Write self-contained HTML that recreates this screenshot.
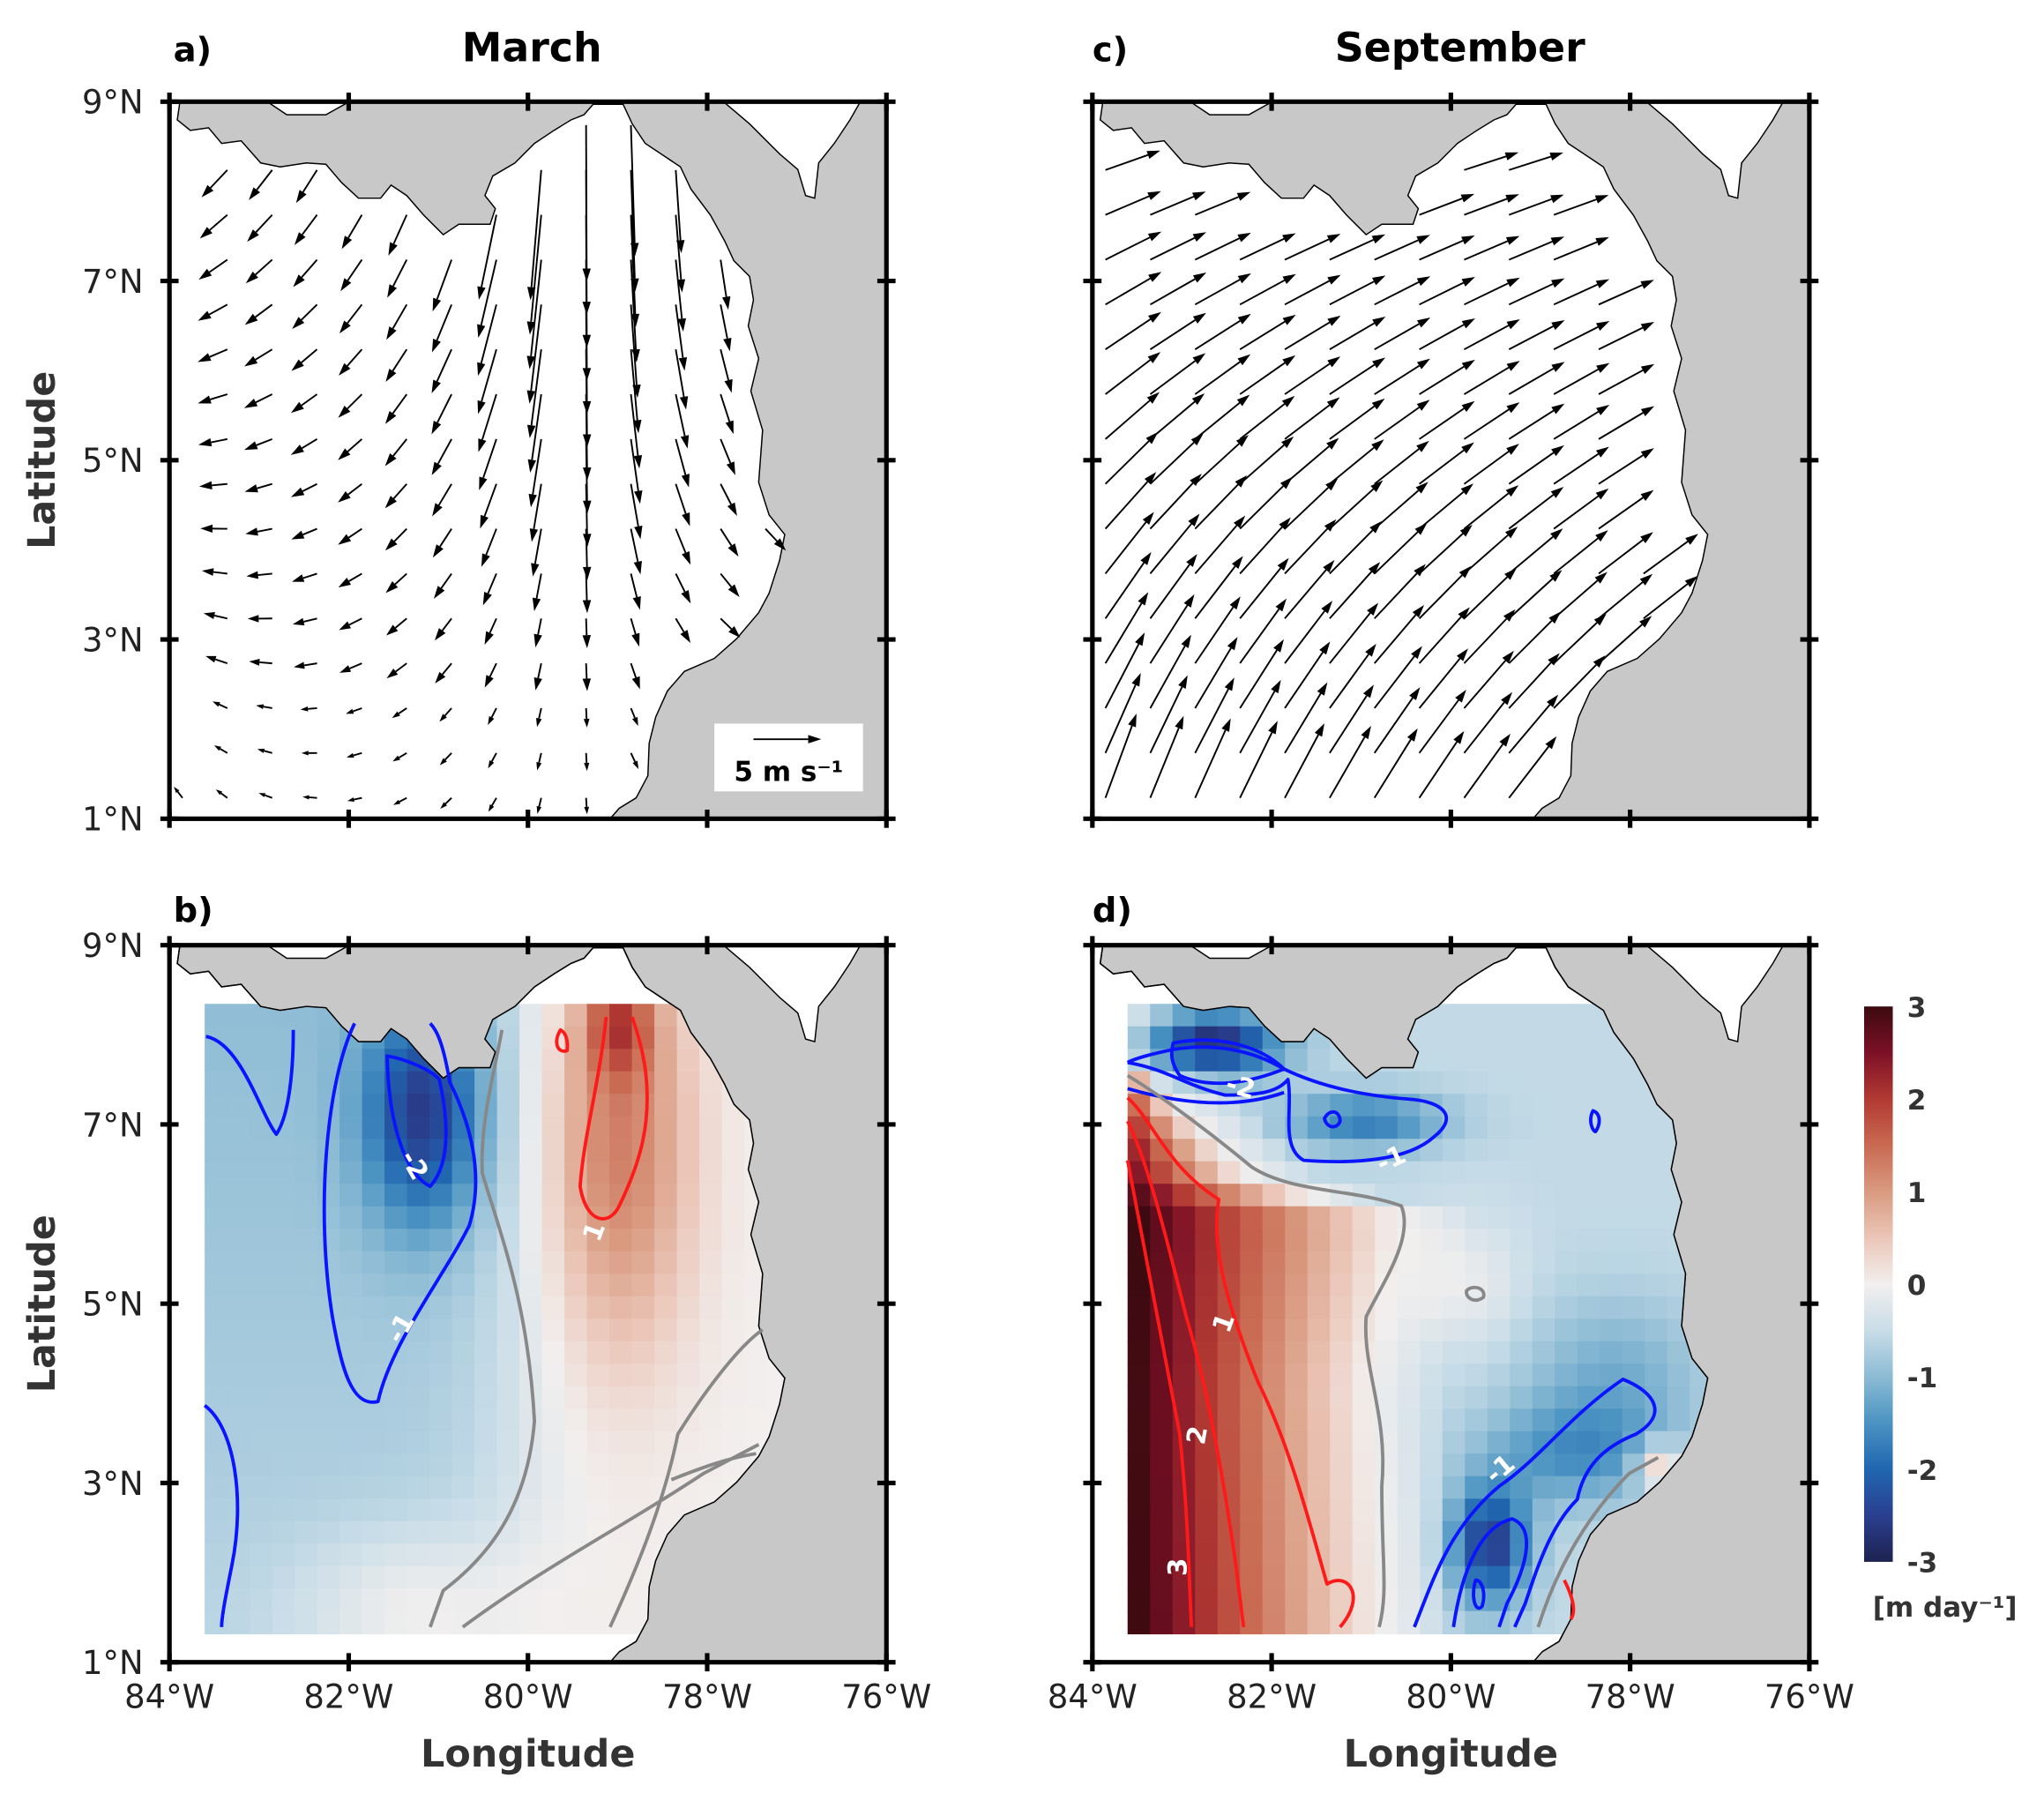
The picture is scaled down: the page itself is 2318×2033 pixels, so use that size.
<!DOCTYPE html>
<html><head><meta charset="utf-8"><style>
html,body{margin:0;padding:0;background:#fff}
svg{display:block}
text{font-family:"DejaVu Sans","Liberation Sans",sans-serif}
</style></head><body>
<svg id="s" width="2318" height="2033" viewBox="0 0 1568 1375.3" preserveAspectRatio="none" xmlns="http://www.w3.org/2000/svg">
<defs>
<linearGradient id="cb" x1="0" y1="1" x2="0" y2="0">
<stop offset="0" stop-color="#1d2250"/><stop offset="0.083" stop-color="#2a3f8f"/><stop offset="0.167" stop-color="#2066b0"/><stop offset="0.25" stop-color="#4a93c2"/><stop offset="0.333" stop-color="#8cbbd4"/><stop offset="0.417" stop-color="#c9dde8"/><stop offset="0.5" stop-color="#f2efee"/><stop offset="0.583" stop-color="#ebc6b8"/><stop offset="0.667" stop-color="#d99a80"/><stop offset="0.75" stop-color="#c96a52"/><stop offset="0.833" stop-color="#b23a33"/><stop offset="0.917" stop-color="#7c1026"/><stop offset="1" stop-color="#3c0a10"/>
</linearGradient>
</defs>
</svg>
<script>
const NS="http://www.w3.org/2000/svg";const S=document.getElementById('s');
function sq(x){return x*x;}
function el(t,a,p){const e=document.createElementNS(NS,t);for(const k in a)e.setAttribute(k,a[k]);(p||S).appendChild(e);return e;}
function tx(x,y,s,a){const e=el('text',Object.assign({x:x,y:y},a));e.textContent=s;return e;}
const OC=[[130,628],[130,78],[138,78],[136,92],[146,100],[160,98],[170,110],[185,108],[200,125],[215,128],[235,125],[250,126],[262,140],[275,152],[292,152],[300,142],[312,150],[325,165],[340,180],[352,172],[376,172],[380,160],[372,150],[378,135],[395,125],[410,110],[425,100],[438,92],[448,88],[455,80],[478,80],[485,95],[495,110],[510,120],[522,128],[530,145],[545,165],[556,185],[563,200],[575,212],[578,230],[574,250],[582,275],[576,300],[585,330],[582,370],[590,395],[602,410],[598,430],[590,455],[582,470],[565,490],[548,505],[525,515],[512,530],[503,550],[498,570],[497,595],[488,612],[475,620],[468,628]].map(p=>[p[0]-130,p[1]-78]);
const CA1=[[555,78],[575,95],[598,118],[612,130],[618,150],[625,152],[628,125],[640,110],[652,92],[660,78]].map(p=>[p[0]-130,p[1]-78]);
const CA2=[[205,78],[220,88],[250,88],[268,78]].map(p=>[p[0]-130,p[1]-78]);
function pts(P,ox,oy){return P.map(p=>(p[0]+ox)+','+(p[1]+oy)).join(' ');}
function inside(P,x,y){let c=false;for(let i=0,j=P.length-1;i<P.length;j=i++){const a=P[i],b=P[j];if((a[1]>y)!=(b[1]>y)&&x<(b[0]-a[0])*(y-a[1])/(b[1]-a[1])+a[0])c=!c;}return c;}
const ST=[[-3,[29,34,80]],[-2.5,[42,63,143]],[-2,[32,102,176]],[-1.5,[74,147,194]],[-1,[140,187,212]],[-0.5,[201,221,232]],[0,[242,239,238]],[0.5,[235,198,184]],[1,[217,154,128]],[1.5,[201,106,82]],[2,[178,58,51]],[2.5,[124,16,38]],[3,[60,10,16]]];
function col(v){v=Math.max(-3,Math.min(3,v));for(let i=0;i<ST.length-1;i++){if(v<=ST[i+1][0]){const t=(v-ST[i][0])/0.5;const a=ST[i][1],b=ST[i+1][1];return 'rgb('+a.map((q,k)=>Math.round(q+(b[k]-q)*t)).join(',')+')';}}return 'rgb(60,10,16)';}
let cid=0;
function base(ox,oy,heat){
 el('rect',{x:ox,y:oy,width:550,height:550,fill:'#c8c8c8'});
 el('polygon',{points:pts(OC,ox,oy),fill:'#fff',stroke:'#000','stroke-width':1});
 el('polygon',{points:pts(CA1,ox,oy),fill:'#fff',stroke:'#000','stroke-width':1});
 el('polygon',{points:pts(CA2,ox,oy),fill:'#fff',stroke:'#000','stroke-width':1});
 if(heat){cid++;const cp=el('clipPath',{id:'c'+cid});el('polygon',{points:pts(OC,ox,oy)},cp);
  const g=el('g',{'clip-path':'url(#c'+cid+')'});const cs=17.25;
  for(let X=27;X<460;X+=cs)for(let Y=45;Y<523;Y+=cs){el('rect',{x:(ox+X).toFixed(2),y:(oy+Y).toFixed(2),width:cs+0.6,height:cs+0.6,fill:col(heat(X+cs/2,Y+cs/2))},g);}
  el('polyline',{points:pts(OC.slice(2,-1),ox,oy),fill:'none',stroke:'#000','stroke-width':1});
 }
}
function frame(ox,oy){
 el('rect',{x:ox,y:oy,width:550,height:550,fill:'none',stroke:'#000','stroke-width':3.5});
 for(let i=0;i<5;i++){const x=ox+i*137.5,y=oy+i*137.5;
  el('line',{x1:x,y1:oy-7,x2:x,y2:oy+7,stroke:'#000','stroke-width':3.5});
  el('line',{x1:x,y1:oy+543,x2:x,y2:oy+557,stroke:'#000','stroke-width':3.5});
  el('line',{x1:ox-7,y1:y,x2:ox+7,y2:y,stroke:'#000','stroke-width':3.5});
  el('line',{x1:ox+543,y1:y,x2:ox+557,y2:y,stroke:'#000','stroke-width':3.5});}
}
function ylab(ox,oy){['9','7','5','3','1'].forEach((s,i)=>tx(ox-20,oy+i*137.5+9,s+'°N',{'font-size':25,'text-anchor':'end',fill:'#222'}));
 tx(0,0,'Latitude',{'font-size':29,'font-weight':'bold','text-anchor':'middle',fill:'#333',transform:'translate(42,'+(oy+275)+') rotate(-90)'});}
function xlab(ox,oy){['84','82','80','78','76'].forEach((s,i)=>tx(ox+i*137.5,oy+585,s+'°W',{'font-size':25,'text-anchor':'middle',fill:'#222'}));
 tx(ox+275,oy+630,'Longitude',{'font-size':29,'font-weight':'bold','text-anchor':'middle',fill:'#333'});}
function arrow(x,y,dx,dy,g){const L=Math.hypot(dx,dy);if(L<2){el('circle',{cx:x,cy:y,r:0.8,fill:'#000'},g);return;}
 const ux=dx/L,uy=dy/L;const h=Math.min(10,L*0.45),w=Math.min(3.2,L*0.15);
 const ex=x+dx,ey=y+dy,bx=ex-ux*h,by=ey-uy*h;
 el('line',{x1:x,y1:y,x2:bx,y2:by,stroke:'#000','stroke-width':1.3},g);
 el('polygon',{points:ex+','+ey+' '+(bx-uy*w)+','+(by+ux*w)+' '+(bx+uy*w)+','+(by-ux*w),fill:'#000'},g);}
function field(ox,oy,f){const g=el('g',{});for(let X=10;X<545;X+=34.4)for(let Y=18;Y<548;Y+=34.4){
 if(!inside(OC,X,Y)||inside(CA1,X,Y))continue;const r=f(X,Y);
 const ex=X+r[0],ey=Y+r[1];
 if(ex>548||ey>548||ey<2||ex<2)continue;
 if(!inside(OC,ex,ey)&&!inside(OC,ex-4,ey)&&!inside(OC,ex,ey+4))continue;
 arrow(ox+X,oy+Y,r[0],r[1],g);}}
function march(X,Y){const dx=X-315;let th,L;
 const jet=Math.exp(-sq(dx/75))*Math.max(0,1-Y/390);
 if(dx<0){th=(-dx/315)*(40+110*Y/550);}else{th=-(dx/220)*(10+160*sq(Y/550));}
 L=14+85*jet+16*(1-Y/550)+10*Math.exp(-sq(dx/150))*(1-Y/700);
 if(Y>440)L*=0.75;
 const a=th*Math.PI/180;return[-Math.sin(a)*L,Math.cos(a)*L];}
function sept(X,Y){const a=(14+58*(Y/550)*(1-0.55*X/550))*Math.PI/180;const L=42+28*(Y/550)*(1-0.6*X/550);return[Math.cos(a)*L,-Math.sin(a)*L];}
function g2(X,Y,cx,sx,cy,sy){return Math.exp(-(sq((X-cx)/sx)+sq((Y-cy)/sy)));}
function valB(X,Y){let v=-0.95/(1+Math.exp((X-265)/25))*(0.7+0.35*(1-Y/500));
 v+=-1.7*g2(X,Y,195,45,130,85);
 v+=1.3*g2(X,Y,345,55,150,160)*(X>270?1:0.3);
 v+=1.2*g2(X,Y,345,25,60,40);
 v+=0.6*g2(X,Y,190,90,510,60);return v;}
const ZP=[[45,27],[95,35],[180,122],[210,237],[335,212],[523,222]];
function zx(Y){if(Y<=ZP[0][0])return ZP[0][1];for(let i=0;i<ZP.length-1;i++)if(Y<=ZP[i+1][0]){const t=(Y-ZP[i][0])/(ZP[i+1][0]-ZP[i][0]);return ZP[i][1]+t*(ZP[i+1][1]-ZP[i][1]);}return 222;}
function valD(X,Y){const z=zx(Y);let v;
 if(X<z&&Y>95){v=3.6*Math.pow((z-X)/z,1.1);}
 else{v=-0.55*Math.min(1,Math.max(0,(X-z)/60));
 v+=-0.6*g2(X,Y,400,70,330,60);
 v+=-2.0*g2(X,Y,305,30,460,45);
 v+=-0.9*g2(X,Y,370,70,390,40);
 v+=-1.2*g2(X,Y,210,60,135,22);
 v+=-2.2*g2(X,Y,90,55,75,25);
 v+=0.45*g2(X,Y,290,40,260,50);
 v+=1.3*g2(X,Y,435,18,400,18);}
 return v;}
base(130,78);field(130,78,march);
el('rect',{x:548,y:555,width:114,height:52,fill:'#fff'});arrow(578,567,52,0,S);
tx(605,599,'5 m s⁻¹',{'font-size':21,'font-weight':'bold','text-anchor':'middle'});
frame(130,78);ylab(130,78);
base(838,78);field(838,78,sept);frame(838,78);
base(130,725,valB);base(838,725,valD);
function cl(d,c,w){el('path',{d:d,fill:'none',stroke:c,'stroke-width':w||2.6,'stroke-linejoin':'round'});}
const B='#0a14ff',R='#ff1a1a',G='#888';
cl('M158,795 C185,800 200,855 212,870 C222,855 225,820 225,790',B);
cl('M272,785 C250,830 242,930 255,1010 C262,1050 270,1080 290,1075 C300,1030 340,980 360,940 C372,900 360,860 345,830 C340,800 335,790 330,785',B);
cl('M297,810 C298,860 310,900 330,910 C348,890 342,850 337,828 C330,820 310,812 297,810Z',B);
cl('M157,1078 C180,1095 188,1150 178,1200 C173,1225 170,1240 170,1248',B);
cl('M385,790 C380,820 368,860 370,900 C385,950 405,1000 410,1090 C405,1150 380,1190 340,1220 L330,1248',G);
cl('M355,1248 C420,1200 480,1170 540,1130 L582,1108',G);
cl('M468,1248 C490,1200 510,1150 520,1100 C545,1060 570,1030 585,1020',G);
cl('M515,1135 C540,1125 560,1118 580,1115',G);
cl('M430,790 C424,800 428,808 435,806 C436,798 434,792 430,790Z',R);
cl('M465,780 C460,830 448,870 445,910 C450,940 468,940 475,925 C492,890 500,860 495,820 C492,800 488,790 485,780',R);
cl('M865,815 C895,820 910,833 940,840 C965,840 980,838 988,828 C992,850 982,880 1000,890 C1040,893 1080,890 1100,872 C1118,858 1110,845 1080,843 C1040,840 1010,832 985,820 C960,805 930,800 900,805 C885,808 870,812 865,815',B);
cl('M900,800 C935,793 968,803 985,820 C960,830 930,836 905,825 C898,815 898,808 900,800Z',B);
cl('M865,835 C900,845 945,852 985,838',B);
cl('M1016,858 C1020,850 1028,852 1028,860 C1026,866 1018,866 1016,858Z',B);
cl('M1222,852 C1218,860 1222,868 1224,868 C1228,862 1228,854 1222,852Z',B);
cl('M865,825 C890,840 930,870 960,895 C990,915 1040,912 1075,925 C1085,950 1060,985 1048,1010 C1045,1050 1065,1085 1060,1140 C1060,1200 1065,1220 1058,1248',G);
cl('M1125,990 C1130,985 1140,988 1138,995 C1132,1000 1124,996 1125,990Z',G);
cl('M1180,1248 C1195,1200 1220,1160 1250,1130 L1272,1118',G);
cl('M865,842 C885,860 895,895 935,920 C928,960 945,1010 965,1060 C990,1110 1005,1170 1018,1215 C1035,1205 1048,1225 1028,1248',R);
cl('M865,860 C880,890 895,950 910,1010 C925,1060 938,1130 948,1200 L954,1248',R);
cl('M865,890 C878,960 892,1030 905,1100 C912,1170 912,1210 914,1248',R);
cl('M1200,1212 C1205,1222 1210,1235 1205,1242',R);
cl('M1085,1248 C1100,1210 1112,1172 1150,1140 C1180,1120 1205,1085 1245,1058 C1270,1068 1280,1085 1255,1100 C1230,1110 1215,1125 1210,1150 C1190,1170 1180,1200 1170,1230 L1162,1248',B);
cl('M1115,1248 C1122,1200 1138,1170 1160,1165 C1178,1172 1172,1200 1156,1230 L1150,1248',B);
cl('M1132,1212 C1128,1225 1132,1238 1137,1232 C1140,1222 1137,1212 1132,1212Z',B);
function lbl(x,y,s,r){tx(0,0,s,{'font-size':20,'font-weight':'bold',fill:'#fff','text-anchor':'middle',transform:'translate('+x+','+(y+7)+') rotate('+r+')'});}
lbl(312,890,'-2',60);lbl(313,1015,'-1',-60);lbl(462,940,'1',-70);
lbl(950,833,'-2',15);lbl(1070,888,'-1',-25);lbl(945,1010,'1',-70);lbl(925,1095,'2',-80);lbl(910,1195,'3',-90);lbl(1155,1125,'-1',-40);
frame(130,725);ylab(130,725);xlab(130,725);frame(838,725);xlab(838,725);
tx(133,47,'a)',{'font-size':26,'font-weight':'bold'});tx(408,47,'March',{'font-size':31,'font-weight':'bold','text-anchor':'middle'});
tx(838,47,'c)',{'font-size':26,'font-weight':'bold'});tx(1120,47,'September',{'font-size':31,'font-weight':'bold','text-anchor':'middle'});
tx(133,707,'b)',{'font-size':26,'font-weight':'bold'});tx(838,707,'d)',{'font-size':26,'font-weight':'bold'});
el('rect',{x:1430,y:772,width:22,height:426,fill:'url(#cb)'});
['3','2','1','0','-1','-2','-3'].forEach((s,i)=>{const y=772+i*71;tx(1463,y+8,s,{'font-size':21,'font-weight':'bold',fill:'#333'});});
tx(1492,1240,'[m day⁻¹]',{'font-size':21,'font-weight':'bold','text-anchor':'middle',fill:'#333'});
</script>
</body></html>
